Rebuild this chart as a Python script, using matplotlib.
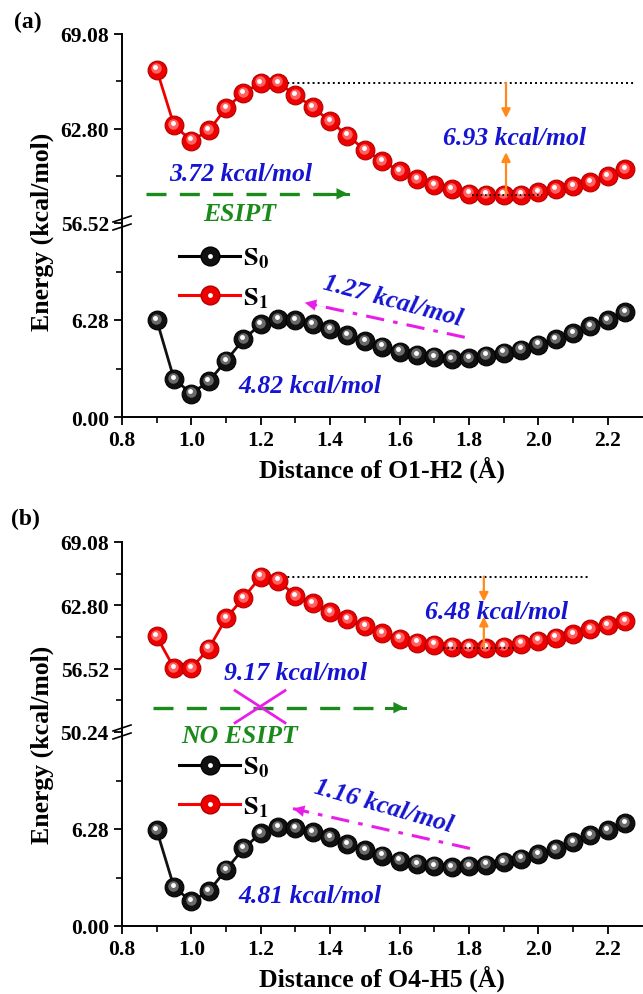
import matplotlib
matplotlib.use('Agg')
import matplotlib.pyplot as plt
from matplotlib import transforms
from matplotlib.lines import Line2D
from matplotlib.legend_handler import HandlerTuple

plt.rcParams['font.family'] = ['Liberation Serif', 'DejaVu Serif']
plt.rcParams['font.weight'] = 'bold'
plt.rcParams['mathtext.fontset'] = 'stix'

# O-H distance (angstrom)
dist = [0.90, 0.95, 1.00, 1.05, 1.10, 1.15, 1.20, 1.25, 1.30, 1.35,
        1.40, 1.45, 1.50, 1.55, 1.60, 1.65, 1.70, 1.75, 1.80, 1.85,
        1.90, 1.95, 2.00, 2.05, 2.10, 2.15, 2.20, 2.25]

# panel (a) O1-H2
s0_a = [6.28, 2.45, 1.52, 2.31, 3.64, 5.02, 6.01, 6.35, 6.28, 6.01,
        5.68, 5.29, 4.89, 4.56, 4.23, 4.03, 3.90, 3.77, 3.83, 3.97,
        4.17, 4.36, 4.69, 5.02, 5.42, 5.88, 6.28, 6.81]
s1_a = [66.72, 63.01, 61.99, 62.67, 64.15, 65.17, 65.84, 65.84, 65.03, 64.22,
        63.27, 62.33, 61.38, 60.64, 59.97, 59.43, 59.02, 58.75, 58.48, 58.41,
        58.41, 58.41, 58.55, 58.75, 58.96, 59.23, 59.63, 60.10]

# panel (b) O4-H5
s0_b = [6.21, 2.51, 1.59, 2.25, 3.64, 5.02, 6.01, 6.41, 6.35, 6.08,
        5.75, 5.29, 4.89, 4.56, 4.23, 4.03, 3.90, 3.83, 3.90, 3.97,
        4.16, 4.36, 4.63, 4.96, 5.42, 5.88, 6.21, 6.68]
s1_b = [59.71, 56.58, 56.58, 58.50, 61.52, 63.54, 65.65, 65.25, 63.74, 63.03,
        62.13, 61.42, 60.71, 60.01, 59.50, 59.10, 58.90, 58.70, 58.60, 58.60,
        58.70, 59.00, 59.30, 59.60, 59.91, 60.41, 60.81, 61.22]

W, H = 643, 995
fig = plt.figure(figsize=(W / 100, H / 100), dpi=100)

LEFT = 122
BLUE = '#1414d2'
GREEN = '#1a8a1a'
MAG = '#e81ee8'
ORANGE = '#ff8a1a'
MS = 13.5


def fax(top, bottom):
    # axes from pixel rows
    return fig.add_axes([LEFT / W, 1 - bottom / H, 1 - LEFT / W - 0.001, (bottom - top) / H])


def spheres(ax, y, base, edge, mid, lw):
    ax.plot(dist, y, '-', color=base, lw=lw, zorder=2)
    ax.plot(dist, y, 'o', ms=MS, mfc=base, mec=edge, mew=0.8, zorder=3, clip_on=False)
    off1 = transforms.offset_copy(ax.transData, fig=fig, x=-0.8, y=1.3, units='dots')
    ax.plot(dist, y, 'o', ms=MS * 0.56, mfc=mid, mec='none', zorder=4, transform=off1, clip_on=False)
    off2 = transforms.offset_copy(ax.transData, fig=fig, x=-1.3, y=2.2, units='dots')
    ax.plot(dist, y, 'o', ms=MS * 0.26, mfc='white', mec='none', zorder=5, transform=off2, clip_on=False)


def style(ax, lower, majors, minors, ylim):
    ax.set_xlim(0.8, 2.3)
    ax.set_ylim(*ylim)
    ax.set_yticks(majors)
    ax.set_yticks(minors, minor=True)
    ax.set_yticklabels(['%.2f' % v for v in majors])
    ax.spines['right'].set_visible(False)
    ax.spines['top'].set_visible(False)
    for s in ax.spines.values():
        s.set_linewidth(1.4)
    ax.tick_params(axis='y', which='major', length=6, width=1.3, labelsize=15.5)
    ax.tick_params(axis='y', which='minor', length=4, width=1.2)
    if lower:
        ax.set_xticks([0.8, 1.0, 1.2, 1.4, 1.6, 1.8, 2.0, 2.2])
        ax.set_xticks([0.9, 1.1, 1.3, 1.5, 1.7, 1.9, 2.1], minor=True)
        ax.set_xticklabels(['0.8', '1.0', '1.2', '1.4', '1.6', '1.8', '2.0', '2.2'])
        ax.tick_params(axis='x', which='major', length=6, width=1.3, labelsize=15.5)
        ax.tick_params(axis='x', which='minor', length=4, width=1.2)
    else:
        ax.spines['bottom'].set_visible(False)
        ax.set_xticks([])


def break_marks(ypx):
    x0, x1 = (LEFT - 9) / W, (LEFT + 9) / W
    for dy in (-4, 4):
        y0 = 1 - (ypx + dy + 3) / H
        y1 = 1 - (ypx + dy - 3) / H
        fig.add_artist(Line2D([x0, x1], [y0, y1], color='black', lw=1.2))


def arrow_line(ax, tail, head, color, ls):
    ax.plot([tail[0], head[0]], [tail[1], head[1]], color=color, lw=2.2, ls=ls, zorder=6)
    near = (head[0] + 0.12 * (tail[0] - head[0]), head[1] + 0.12 * (tail[1] - head[1]))
    ax.annotate('', xy=head, xytext=near,
                arrowprops=dict(arrowstyle='-|>', color=color, lw=0.1,
                                mutation_scale=20, shrinkA=0, shrinkB=0), zorder=6)


def orange(ax, x, start, end):
    ax.annotate('', xy=(x, end), xytext=(x, start),
                arrowprops=dict(arrowstyle='-|>', color=ORANGE, lw=1.6,
                                mutation_scale=13, shrinkA=0, shrinkB=0), zorder=7)


def legend(ax):
    h0 = (Line2D([], [], color='black', lw=2.2, marker='o', ms=MS, mfc='#111111', mec='black'),
          Line2D([], [], ls='none', marker='o', ms=3.5, mfc='white', mec='none'))
    h1 = (Line2D([], [], color='red', lw=2.2, marker='o', ms=MS, mfc='#ee0000', mec='#b00000'),
          Line2D([], [], ls='none', marker='o', ms=3.5, mfc='white', mec='none'))
    ax.legend([h0, h1], [r'$\mathbf{S_0}$', r'$\mathbf{S_1}$'],
              handler_map={tuple: HandlerTuple(ndivide=1, pad=0)},
              loc='upper left', bbox_to_anchor=(0.085, 0.95), frameon=False,
              fontsize=19, handlelength=2.3, handletextpad=0.1, labelspacing=0.55,
              borderpad=0)


TXT = dict(color=BLUE, fontsize=18.5, fontstyle='italic', fontweight='bold',
           ha='center', va='center')
GTXT = dict(color=GREEN, fontsize=18.5, fontstyle='italic', fontweight='bold',
            ha='center', va='center')

# ---------------- panel (a) ----------------
ua = fax(35, 224)
la = fax(224, 418)
spheres(ua, s1_a, '#ee0000', '#b00000', '#ff6060', 2.0)
spheres(la, s0_a, '#111111', 'black', '#6a6a6a', 2.0)
style(ua, False, [56.52, 62.80, 69.08], [59.66, 65.94], (56.52, 69.08))
style(la, True, [0.00, 6.28], [3.14, 9.42], (0.0, 12.56))
break_marks(224)

ts_a = s1_a[6]
min_a = min(s1_a[6:])
ua.plot([1.19, 2.28], [ts_a, ts_a], ls=(0, (1, 1.6)), color='black', lw=1.4, zorder=1)
ua.plot([1.81, 2.01], [min_a, min_a], ls=(0, (1, 1.6)), color='black', lw=1.2, zorder=6)
orange(ua, 1.907, ts_a, 63.50)
orange(ua, 1.907, min_a, 61.22)
ua.text(1.93, 62.23, '6.93 kcal/mol', **TXT)
ua.text(1.143, 59.81, '3.72 kcal/mol', **TXT)
ua.plot([0.87, 1.40], [58.46, 58.46], color=GREEN, lw=2.4, ls=(0, (6, 4)), zorder=6)
arrow_line(ua, (1.40, 58.46), (1.451, 58.46), GREEN, '-')
ua.text(1.14, 57.15, 'ESIPT', **GTXT)

arrow_line(la, (1.788, 5.16), (1.327, 7.40), MAG, (0, (6, 3, 1.5, 3)))
la.text(1.581, 7.54, '1.27 kcal/mol', rotation=-15, **TXT)
la.text(1.342, 2.05, '4.82 kcal/mol', **TXT)
legend(la)
la.set_xlabel('Distance of O1-H2 (\u00c5)', fontsize=18.5, fontweight='bold', labelpad=4)

fig.text(28 / W, 1 - 22 / H, '(a)', fontsize=17, fontweight='bold', ha='center', va='center')
fig.text(42 / W, 1 - 232 / H, 'Energy (kcal/mol)', fontsize=18.5, fontweight='bold',
         rotation=90, ha='center', va='center')

# ---------------- panel (b) ----------------
ub = fax(543, 733)
lb = fax(733, 927)
spheres(ub, s1_b, '#ee0000', '#b00000', '#ff6060', 2.0)
spheres(lb, s0_b, '#111111', 'black', '#6a6a6a', 2.0)
style(ub, False, [50.24, 56.52, 62.80, 69.08], [53.38, 59.66, 65.94], (50.24, 69.08))
style(lb, True, [0.00, 6.28], [3.14, 9.42], (0.0, 12.56))
break_marks(733)

ts_b = s1_b[6]
min_b = min(s1_b[6:])
ub.plot([1.19, 2.15], [ts_b, ts_b], ls=(0, (1, 1.6)), color='black', lw=1.4, zorder=1)
ub.plot([1.725, 1.94], [min_b, min_b], ls=(0, (1, 1.6)), color='black', lw=1.2, zorder=6)
orange(ub, 1.843, ts_b, 63.17)
orange(ub, 1.843, min_b, 61.67)
ub.text(1.88, 62.17, '6.48 kcal/mol', **TXT)
ub.text(1.301, 56.15, '9.17 kcal/mol', **TXT)
ub.plot([0.89, 1.56], [52.65, 52.65], color=GREEN, lw=2.4, ls=(0, (6, 4)), zorder=6)
arrow_line(ub, (1.56, 52.65), (1.615, 52.65), GREEN, '-')
ub.plot([1.126, 1.27], [54.35, 51.15], color=MAG, lw=2.0, zorder=7)
ub.plot([1.126, 1.27], [51.15, 54.35], color=MAG, lw=2.0, zorder=7)
lb.text(1.14, 12.36, 'NO ESIPT', **GTXT)

arrow_line(lb, (1.803, 5.02), (1.293, 7.60), MAG, (0, (6, 3, 1.5, 3)))
lb.text(1.555, 7.80, '1.16 kcal/mol', rotation=-16, **TXT)
lb.text(1.342, 1.98, '4.81 kcal/mol', **TXT)
legend(lb)
lb.set_xlabel('Distance of O4-H5 (\u00c5)', fontsize=18.5, fontweight='bold', labelpad=4)

fig.text(25 / W, 1 - 519 / H, '(b)', fontsize=17, fontweight='bold', ha='center', va='center')
fig.text(42 / W, 1 - 745 / H, 'Energy (kcal/mol)', fontsize=18.5, fontweight='bold',
         rotation=90, ha='center', va='center')

fig.savefig('out.png', dpi=100)
